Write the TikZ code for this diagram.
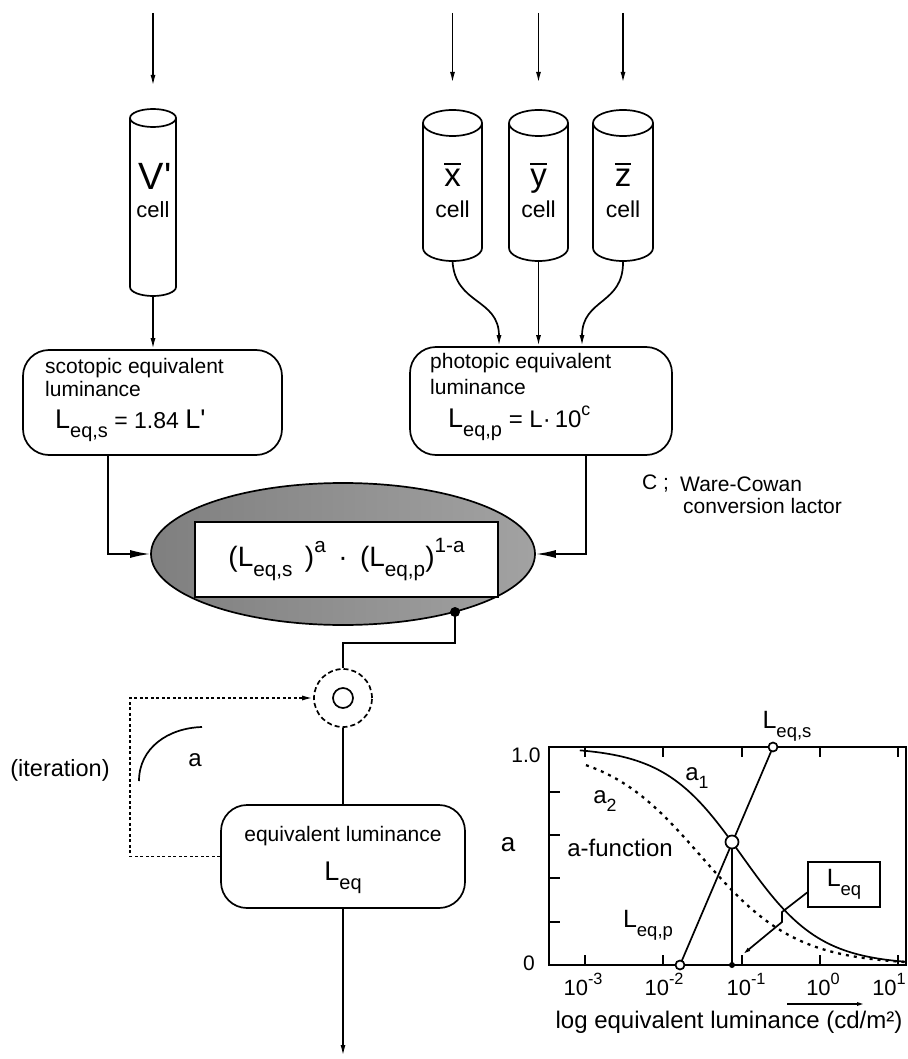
\documentclass[tikz,border=0pt]{standalone}
\usepackage{fontspec}
\setmainfont{Liberation Sans}
\usepackage{graphicx}
\usetikzlibrary{arrows.meta,shapes.geometric,calc}
\newcommand{\myfs}[1]{\fontsize{#1}{#1}\selectfont}
\newcommand{\Lsb}[1]{\raisebox{-0.36em}{\scalebox{0.74}{#1}}}
\newcommand{\Lsp}[1]{\raisebox{0.5em}{\scalebox{0.74}{#1}}}
\newcommand{\ovl}[1]{\leavevmode\vbox{\hrule height 1.6pt depth 0pt\kern 5pt\hbox{#1}}}
\newcommand{\mycyl}[6]{%
  \draw[ln] (#2-#3,#4) -- (#2-#3,#5) arc[start angle=180,end angle=0,x radius=#3,y radius=#6] -- (#2+#3,#4);
  \draw[ln] (#2,#4) ellipse[x radius=#3,y radius=#6];
  \coordinate (#1t) at (#2,#4-#6);
  \coordinate (#1b) at (#2,#5+#6);
}
\pgfdeclarehorizontalshading{ellshade}{100bp}{color(0bp)=(black!95); color(5bp)=(black!72); color(18bp)=(black!52); color(55bp)=(black!42); color(80bp)=(black!35); color(100bp)=(black!28)}
\begin{document}
\begin{tikzpicture}[x=1pt,y=-1pt,
  ln/.style={line width=1.7pt},
  arr/.style={ln,-{Latex[length=11pt,width=5pt]}},
  barr/.style={ln,-{Latex[length=20pt,width=8pt]}},
  rbox/.style={draw,ln,rounded corners=26pt,inner sep=0pt},
  fb/.style={line width=1.8pt,dash pattern=on 3pt off 2.5pt},
  txt/.style={inner sep=0pt,font=\myfs{21}},
  gtxt/.style={inner sep=0pt,font=\myfs{24}},
]
\useasboundingbox (0,0) rectangle (907,1059);

% input arrows
\coordinate (iV) at (153,13);  \coordinate (aV) at (153,86);
\coordinate (iX) at (452.5,13); \coordinate (aX) at (452.5,83);
\coordinate (iY) at (538.5,13); \coordinate (aY) at (538.5,83);
\coordinate (iZ) at (623,13);   \coordinate (aZ) at (623,83);
\draw[arr] (iV) -- (aV);
\draw[arr] (iX) -- (aX);
\draw[arr] (iY) -- (aY);
\draw[arr] (iZ) -- (aZ);

% cylinders
\mycyl{V}{153}{23}{118}{287}{9}
\mycyl{X}{452.5}{29.5}{123}{248}{13}
\mycyl{Y}{538.5}{29.5}{123}{248}{13}
\mycyl{Z}{623}{30}{123}{248}{13}

\node[inner sep=0pt,font=\myfs{38}] (Vl) at (155,176) {V\textquotesingle};
\node[inner sep=0pt,font=\myfs{22}] (Vc) at (153,210) {cell};
\node[inner sep=0pt,font=\myfs{33},anchor=base] (Xl) at (452.5,187) {\ovl{x}};
\node[inner sep=0pt,font=\myfs{33},anchor=base] (Yl) at (538.5,187) {\ovl{y}};
\node[inner sep=0pt,font=\myfs{33},anchor=base] (Zl) at (623,187) {\ovl{z}};
\node[inner sep=0pt,font=\myfs{23}] (Xc) at (452.5,209) {cell};
\node[inner sep=0pt,font=\myfs{23}] (Yc) at (538.5,209) {cell};
\node[inner sep=0pt,font=\myfs{23}] (Zc) at (623,209) {cell};

% boxes
\node[rbox,minimum width=259pt,minimum height=105pt] (sco) at (152.5,402.5) {};
\node[rbox,minimum width=262pt,minimum height=108pt] (pho) at (541,401) {};
\node[txt,anchor=west] (s1) at (45,368) {scotopic equivalent};
\node[txt,anchor=west] (s2) at (45,389) {luminance};
\node[anchor=base west,inner sep=0pt] (s3) at (55,428) {\myfs{27}L\Lsb{eq,s}\myfs{23} = 1.84 \myfs{27}L\textquotesingle};
\node[txt,anchor=west] (p1) at (430,363) {photopic equivalent};
\node[txt,anchor=west] (p2) at (430,387) {luminance};
\node[anchor=base west,inner sep=0pt] (p3) at (448,427) {\myfs{27}L\Lsb{eq,p}\myfs{24} = L\textperiodcentered\,10\Lsp{c}};

\draw[arr] (Vb) -- (sco.north -| Vb);
\draw[arr] (Xb) .. controls (455,305) and (499,298) .. ([xshift=-42pt]pho.north);
\draw[arr] (Yb) -- (pho.north -| Yb);
\draw[arr] (Zb) .. controls (624,305) and (582,298) .. ([xshift=41pt]pho.north);

\node[txt,anchor=west] (c0) at (642,484) {C ;};
\node[txt,anchor=west] (c1) at (680,484) {Ware-Cowan};
\node[txt,anchor=west] (c2) at (683,506) {conversion lactor};

% ellipse
\node[ellipse,draw,ln,shade,shading=ellshade,minimum width=384pt,minimum height=142pt] (ell) at (343,554) {};
\node[draw,ln,fill=white,minimum width=303pt,minimum height=75pt,inner sep=0pt] (frm) at (346.5,559.5)
  {\myfs{28}(L\Lsb{eq,s}\, )\Lsp{a}\, \textperiodcentered\, (L\Lsb{eq,p})\Lsp{1-a}};
\node[circle,fill=black,inner sep=0pt,minimum size=10pt] (dot) at (455,612) {};

\draw[barr] ([xshift=-44.5pt]sco.south) |- (ell.west);
\draw[barr] ([xshift=45pt]pho.south) |- (ell.east);

% junction
\node[circle,draw,ln,dash pattern=on 5pt off 3pt,minimum size=58pt,inner sep=0pt] (jn) at (343,698) {};
\node[circle,draw,ln,minimum size=20pt,inner sep=0pt] (jo) at (343,698) {};
\draw[ln] (dot.center) -- (455,643) -| (jn.north);

% equivalent luminance
\node[rbox,minimum width=244pt,minimum height=103pt] (equ) at (343,856.5) {};
\node[txt] (e1) at (343,836) {equivalent luminance};
\node[anchor=base,inner sep=0pt] (e2) at (343,880) {\myfs{27}L\Lsb{eq}};
\draw[ln] (jn.south) -- (equ.north);
\coordinate (outp) at (343,1056);
\draw[arr] (equ.south) -- (outp);

% iteration
\draw[fb,-{Latex[length=11pt,width=5pt]}] (equ.west) -- (130,856.5) |- (jn.west);
\node[inner sep=0pt,font=\myfs{23.5}] (it) at (60,770) {(iteration)};
\draw[ln] (139,781) .. controls (139,748) and (168,728) .. (202,727);
\node[inner sep=0pt,font=\myfs{24}] (ia) at (195,760) {a};

% graph
\draw[ln] (549,747) rectangle (906,965);
\foreach \yy in {792,835,878,922} \draw[ln] (549,\yy) -- (560,\yy);
\foreach \xx in {585,663,742,820,898} {\draw[ln] (\xx,747) -- (\xx,757); \draw[ln] (\xx,965) -- (\xx,955);}
\draw[ln] plot[domain=-3.08:1.1,samples=80,smooth] ({820+78*\x},{965-218/(1+exp(2*(\x+1)))});
\draw[line width=2.3pt,dash pattern=on 3pt off 5pt] plot[domain=-3:1.1,samples=80,smooth] ({820+78*\x},{965-218/(1+exp(1.63*(\x+1.528)))});
\coordinate (gS) at (773,747);
\coordinate (gP) at (680,965);
\coordinate (gX) at (732,842);
\coordinate (gD) at (732,965);
\draw[ln] (gP) -- (gS);
\draw[ln] (gX) -- (gD);
\node[circle,draw,ln,fill=white,inner sep=0pt,minimum size=9pt] (nS) at (gS) {};
\node[circle,draw,ln,fill=white,inner sep=0pt,minimum size=9pt] (nP) at (gP) {};
\node[circle,draw,ln,fill=white,inner sep=0pt,minimum size=13pt] (nX) at (gX) {};
\node[circle,fill=black,inner sep=0pt,minimum size=6pt] (nD) at (gD) {};
\node[draw,ln,fill=white,minimum width=72pt,minimum height=45pt,inner sep=0pt] (lq) at (844,884.5) {\myfs{25}L\Lsb{eq}};
\draw[ln,-{Latex[length=9pt,width=4pt]}] ([yshift=-8pt]lq.west) -- (782,912) -- (782,922) -- (742,955);

\node[inner sep=0pt] (lS) at (787,726) {\myfs{25}L\Lsb{eq,s}};
\node[inner sep=0pt] (lP) at (648,925) {\myfs{25}L\Lsb{eq,p}};
\node[gtxt] (l1) at (697,778) {a\Lsb{1}};
\node[gtxt] (l2) at (605,801) {a\Lsb{2}};
\node[gtxt] (lf) at (620,848) {a-function};
\node[inner sep=0pt,font=\myfs{26}] (la) at (508,845) {a};
\node[inner sep=0pt,font=\myfs{21}] (y1) at (526,755) {1.0};
\node[inner sep=0pt,font=\myfs{21}] (y0) at (529,963) {0};
\node[inner sep=0pt,font=\myfs{22},anchor=base] (x1) at (583,995) {10\Lsp{-3}};
\node[inner sep=0pt,font=\myfs{22},anchor=base] (x2) at (664,995) {10\Lsp{-2}};
\node[inner sep=0pt,font=\myfs{22},anchor=base] (x3) at (746,995) {10\Lsp{-1}};
\node[inner sep=0pt,font=\myfs{22},anchor=base] (x4) at (823,995) {10\Lsp{0}};
\node[inner sep=0pt,font=\myfs{22},anchor=base] (x5) at (889,995) {10\Lsp{1}};
\coordinate (ga1) at (787,1004);
\coordinate (ga2) at (866,1004);
\draw[ln,-{Latex[length=9pt,width=4pt]}] (ga1) -- (ga2);
\node[gtxt,anchor=base] (xl) at (729,1028) {log equivalent luminance (cd/m²)};
\end{tikzpicture}
\end{document}
